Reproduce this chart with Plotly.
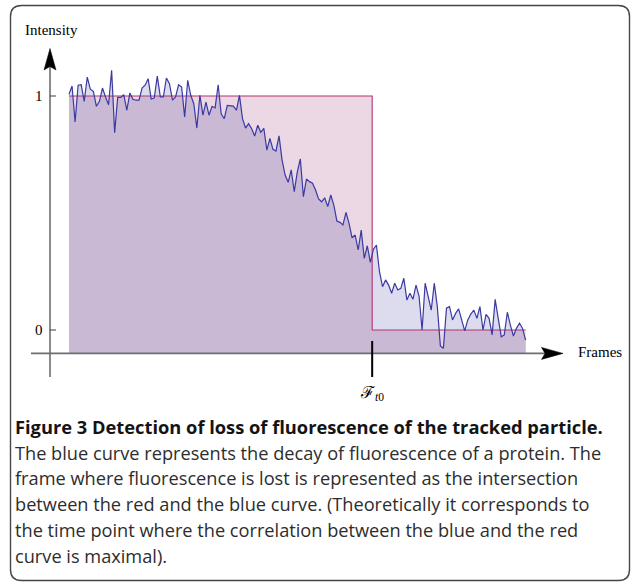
import plotly.graph_objects as go

W, H = 633, 584

# ---------------- data ----------------
frames = list(range(151))
intensity = [
    1.007, 1.043, 0.889, 1.046, 1.048, 0.977, 1.081, 1.029, 1.020, 0.956,
    0.977, 1.034, 0.996, 0.963, 1.110, 0.843, 0.994, 0.994, 1.006, 0.939,
    1.013, 0.986, 0.982, 0.982, 1.034, 1.046, 1.074, 0.987, 0.991, 1.085,
    0.996, 0.996, 1.077, 1.053, 0.982, 0.996, 1.048, 1.038, 0.910, 1.067,
    1.003, 0.967, 0.863, 1.003, 0.918, 0.974, 0.918, 0.956, 0.949, 1.048,
    0.924, 0.903, 0.960, 0.960, 0.957, 0.939, 1.003, 0.903, 0.863, 0.882,
    0.860, 0.829, 0.875, 0.845, 0.862, 0.769, 0.819, 0.772, 0.765, 0.830,
    0.726, 0.662, 0.631, 0.684, 0.591, 0.676, 0.731, 0.570, 0.645, 0.634,
    0.627, 0.598, 0.560, 0.548, 0.565, 0.527, 0.577, 0.534, 0.466, 0.460,
    0.449, 0.503, 0.456, 0.394, 0.406, 0.342, 0.427, 0.306, 0.360, 0.289,
    0.345, 0.363, 0.249, 0.185, 0.214, 0.192, 0.157, 0.200, 0.171, 0.178,
    0.221, 0.128, 0.157, 0.131, 0.192, 0.145, 0.000, 0.200, 0.142, 0.085,
    0.200, 0.100, -0.068, -0.078, 0.093, 0.100, 0.043, 0.071, 0.090, 0.043,
    -0.004, 0.043, 0.068, 0.085, 0.050, 0.100, 0.000, 0.067, 0.050, -0.021,
    0.131, 0.051, -0.029, -0.021, 0.076, 0.021, -0.026, 0.007, 0.029, 0.007,
    -0.043,
]
step_frame = 99.6          # F_t0 : frame where fluorescence is lost
red_levels = [1.0, 0.0]    # step model before / after F_t0
baseline = -0.1            # level of the horizontal axis
tick_vals = [0, 1]
tick_labels = ["0", "1"]
x_label = "Frames"
y_label = "Intensity"
event_label = "\u2131<sub><i>t</i>0</sub>"
caption_title = "Figure 3 Detection of loss of fluorescence of the tracked particle."
caption_lines = [
    "The blue curve represents the decay of fluorescence of a protein. The",
    "frame where fluorescence is lost is represented as the intersection",
    "between the red and the blue curve. (Theoretically it corresponds to",
    "the time point where the correlation between the blue and the red",
    "curve is maximal).",
]

# ---------------- styles ----------------
PINK = "rgb(236,216,229)"
LAVENDER = "rgb(220,220,238)"
PURPLE = "rgb(201,185,213)"
BLUE_LINE = "rgb(58,58,162)"
RED_LINE = "rgb(178,52,112)"
AXIS = "rgb(110,110,110)"
SERIF = "Liberation Serif"
SANS = "Open Sans"

# pixel calibration of the data axes (plot area = whole figure)
X0PX, DXPX = 69.0, 3.044
Y0PX, DYPX = 330.0, 234.0
x_range = [(0 - X0PX) / DXPX, (W - X0PX) / DXPX]
y_range = [(Y0PX - H) / DYPX, Y0PX / DYPX]


def px(x):
    return x / W


def py(y):
    return 1 - y / H


# ---------------- derived curves ----------------
def red_at(x):
    return red_levels[0] if x < step_frame else red_levels[1]


red_x = [frames[0], step_frame, step_frame, frames[-1]]
red_y = [red_levels[0], red_levels[0], red_levels[1], red_levels[1]]

# min(blue, red) curve for the overlap region
mx, my = [], []
for i in range(len(frames) - 1):
    x1, x2 = frames[i], frames[i + 1]
    b1, b2 = intensity[i], intensity[i + 1]
    if x1 < step_frame < x2:
        bs = b1 + (b2 - b1) * (step_frame - x1) / (x2 - x1)
        segs = [((x1, b1), (step_frame, bs), red_levels[0]),
                ((step_frame, bs), (x2, b2), red_levels[1])]
    else:
        segs = [((x1, b1), (x2, b2), red_at(x1))]
    for k, ((xa, ba), (xb, bb), r) in enumerate(segs):
        mx.append(xa)
        my.append(min(ba, r))
        if (ba - r) * (bb - r) < 0:
            xc = xa + (xb - xa) * (r - ba) / (bb - ba)
            mx.append(xc)
            my.append(r)
        if k == 0 and len(segs) == 2:
            mx.append(xb)
            my.append(min(bb, r))
mx.append(frames[-1])
my.append(min(intensity[-1], red_at(frames[-1])))


def poly(xs, ys):
    return [xs[0]] + list(xs) + [xs[-1]], [baseline] + list(ys) + [baseline]


fig = go.Figure()
for (xs, ys), col in [(poly(red_x, red_y), PINK),
                      (poly(frames, intensity), LAVENDER),
                      (poly(mx, my), PURPLE)]:
    fig.add_trace(go.Scatter(x=xs, y=ys, fill="toself", fillcolor=col,
                             mode="none", hoverinfo="skip", showlegend=False))

fig.add_trace(go.Scatter(x=red_x, y=red_y, mode="lines",
                         line=dict(color=RED_LINE, width=1.1),
                         hoverinfo="skip", showlegend=False))
fig.add_trace(go.Scatter(x=frames, y=intensity, mode="lines",
                         line=dict(color=BLUE_LINE, width=1.2),
                         hoverinfo="skip", showlegend=False))

shapes = []
# horizontal axis
shapes.append(dict(type="line", xref="paper", yref="y", x0=px(31), x1=px(546),
                   y0=baseline, y1=baseline, line=dict(color=AXIS, width=1.6)))
# vertical axis
shapes.append(dict(type="line", xref="paper", yref="paper", x0=px(50), x1=px(50),
                   y0=py(377), y1=py(66), line=dict(color=AXIS, width=1.6)))
# arrowheads
ay = Y0PX + (-baseline) * DYPX
shapes.append(dict(type="path", xref="paper", yref="paper",
                   path=(f"M {px(563)} {py(ay)} L {px(541.5)} {py(ay - 6)} "
                         f"L {px(545)} {py(ay)} L {px(541.5)} {py(ay + 6)} Z"),
                   fillcolor="black", line=dict(color="black", width=0.5)))
shapes.append(dict(type="path", xref="paper", yref="paper",
                   path=(f"M {px(50)} {py(48.5)} L {px(44)} {py(70)} "
                         f"L {px(50)} {py(66.5)} L {px(56)} {py(70)} Z"),
                   fillcolor="black", line=dict(color="black", width=0.5)))
# y ticks
for v in tick_vals:
    shapes.append(dict(type="line", xref="paper", yref="y", x0=px(50), x1=px(56),
                       y0=v, y1=v, line=dict(color="rgb(60,60,60)", width=1)))
# F_t0 tick
shapes.append(dict(type="line", xref="x", yref="paper", x0=step_frame, x1=step_frame,
                   y0=py(377), y1=py(341), line=dict(color="black", width=2)))
# rounded frame
L, R, T, B, r = 10.5, 629.5, 5.5, 580.5, 11
frame_path = (
    f"M {px(L + r)} {py(T)} L {px(R - r)} {py(T)} Q {px(R)} {py(T)} {px(R)} {py(T + r)} "
    f"L {px(R)} {py(B - r)} Q {px(R)} {py(B)} {px(R - r)} {py(B)} "
    f"L {px(L + r)} {py(B)} Q {px(L)} {py(B)} {px(L)} {py(B - r)} "
    f"L {px(L)} {py(T + r)} Q {px(L)} {py(T)} {px(L + r)} {py(T)} Z"
)
shapes.append(dict(type="path", xref="paper", yref="paper", path=frame_path,
                   line=dict(color="rgb(70,70,70)", width=1.4)))

annotations = []
for v, t in zip(tick_vals, tick_labels):
    annotations.append(dict(x=px(45), y=v, xref="paper", yref="y", text=t,
                            showarrow=False, xanchor="right", yanchor="middle",
                            font=dict(family=SERIF, size=15, color="black")))
annotations.append(dict(x=px(23), y=py(30), xref="paper", yref="paper", text=y_label,
                        showarrow=False, xanchor="left", yanchor="middle",
                        font=dict(family=SERIF, size=15, color="black")))
annotations.append(dict(x=px(576), y=py(352), xref="paper", yref="paper", text=x_label,
                        showarrow=False, xanchor="left", yanchor="middle",
                        font=dict(family=SERIF, size=15, color="black")))
annotations.append(dict(x=step_frame, y=py(393), xref="x", yref="paper", text=event_label,
                        showarrow=False, xanchor="center", yanchor="middle",
                        font=dict(family=SERIF, size=16.5, color="black")))
annotations.append(dict(x=px(13), y=py(426), xref="paper", yref="paper",
                        text=f"<b>{caption_title}</b>", showarrow=False,
                        xanchor="left", yanchor="middle",
                        font=dict(family=SANS, size=18.3, color="rgb(20,20,20)")))
for k, line in enumerate(caption_lines):
    annotations.append(dict(x=px(13), y=py(452.5 + 25.9 * k), xref="paper", yref="paper",
                            text=line, showarrow=False, xanchor="left", yanchor="middle",
                            font=dict(family=SANS, size=18.2, color="rgb(45,45,45)")))

fig.update_layout(
    width=W, height=H, autosize=False,
    margin=dict(l=0, r=0, t=0, b=0, pad=0),
    paper_bgcolor="white", plot_bgcolor="white",
    xaxis=dict(visible=False, range=x_range, fixedrange=True),
    yaxis=dict(visible=False, range=y_range, fixedrange=True),
    shapes=shapes, annotations=annotations, showlegend=False,
)

fig.write_html(
    "out.html",
    config={"displayModeBar": False},
    post_script="document.body.style.margin='0';document.body.style.overflow='hidden';",
)
